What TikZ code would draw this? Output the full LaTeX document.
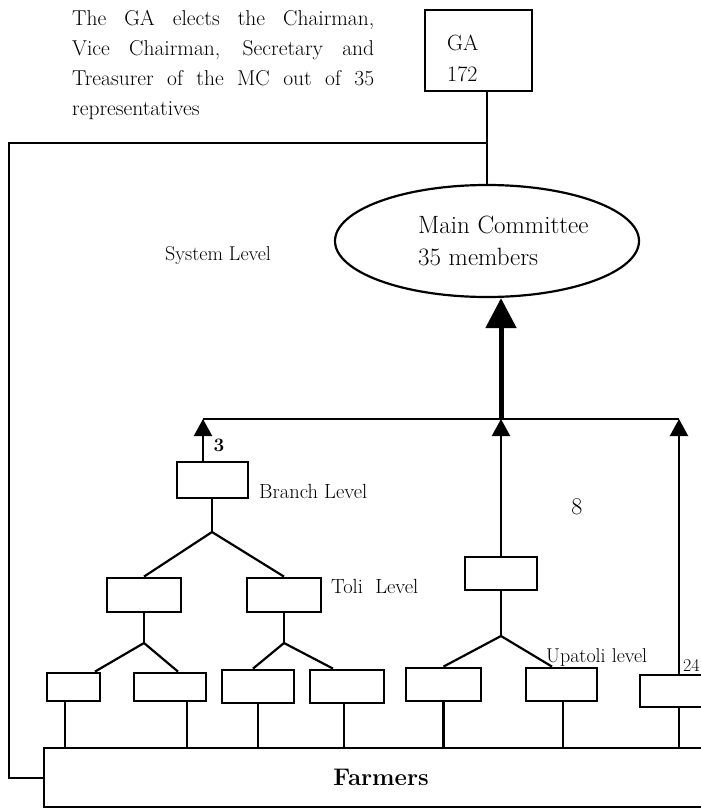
\documentclass[tikz,border=0pt]{standalone}
\usetikzlibrary{arrows.meta,shapes.geometric}
\begin{document}
\begin{tikzpicture}[x=1pt,y=-1pt,
  ln/.style={line width=2.2pt},
  bx/.style={draw,line width=2.8pt,inner sep=0pt,rectangle},
  sarrow/.style={ln,-{Triangle[length=17pt,width=18pt]}},
  barrow/.style={line width=5pt,-{Triangle[length=30pt,width=30pt]}},
  lbl/.style={anchor=base west,inner sep=0pt},
  ftA/.style={font=\fontsize{20}{24}\selectfont},
  ftP/.style={font=\fontsize{21.5}{26}\selectfont},
]
\useasboundingbox (0,0) rectangle (701,809);
\clip (0,0) rectangle (701,809);

% paragraph
\node[lbl,ftP] (p1) at (72,25) {\makebox[302pt][s]{The GA elects the Chairman,}};
\node[lbl,ftP] (p2) at (72,55) {\makebox[302pt][s]{Vice Chairman, Secretary and}};
\node[lbl,ftP] (p3) at (72,85) {\makebox[302pt][s]{Treasurer of the MC out of 35}};
\node[lbl,ftP] (p4) at (72,115) {representatives};

% boxes
\node[bx,minimum width=107pt,minimum height=81pt] (ga) at (478.5,50.5) {};
\node[lbl,font=\fontsize{22}{26}\selectfont] (gat) at (447,50) {GA};
\node[lbl,font=\fontsize{22}{26}\selectfont] (gan) at (447,81) {172};

\node[draw,ellipse,line width=2.2pt,minimum width=304pt,minimum height=112pt,inner sep=0pt] (mc) at (487,241) {};
\node[lbl,font=\fontsize{25}{30}\selectfont] (mct1) at (418,233) {Main Committee};
\node[lbl,font=\fontsize{25}{30}\selectfont] (mct2) at (418,265) {35 members};

\node[lbl,ftA] (sys) at (165,260) {System Level};

\node[bx,minimum width=71pt,minimum height=36pt] (br) at (212.5,480) {};
\node[bx,minimum width=74pt,minimum height=34pt] (t1) at (144,595) {};
\node[bx,minimum width=74pt,minimum height=34pt] (t2) at (284,595) {};
\node[bx,minimum width=72pt,minimum height=33pt] (mid) at (501,573.5) {};
\node[bx,minimum width=53pt,minimum height=28pt] (b1) at (73.5,687) {};
\node[bx,minimum width=72pt,minimum height=28pt] (b2) at (170,687) {};
\node[bx,minimum width=72pt,minimum height=33pt] (b3) at (258,686.5) {};
\node[bx,minimum width=74pt,minimum height=33pt] (b4) at (347,686.5) {};
\node[bx,minimum width=75pt,minimum height=33pt] (b5) at (443.5,684.5) {};
\node[bx,minimum width=71pt,minimum height=33pt] (b6) at (561.5,684.5) {};
\node[bx,minimum width=80pt,minimum height=32pt] (b7) at (680,691) {};
\node[bx,minimum width=674pt,minimum height=59pt,font=\fontsize{24}{28}\selectfont\bfseries] (fa) at (381,777.5) {Farmers};

% labels
\node[lbl,font=\fontsize{20.5}{24}\selectfont] (brl) at (259,498) {Branch Level};
\node[lbl,font=\fontsize{20.5}{24}\selectfont] (tol) at (331,593) {Toli\ \ Level};
\node[lbl,ftA] (upl) at (546,662) {Upatoli level};
\node[font=\fontsize{19}{22}\selectfont\bfseries,inner sep=0pt] (n3) at (219,445) {3};
\node[font=\fontsize{24}{28}\selectfont,inner sep=0pt] (n8) at (577,507) {8};
\node[lbl,font=\fontsize{18}{22}\selectfont] (n24) at (683,671) {24};

% top connectors
\draw[ln] (ga.south -| mc.north) -- (mc.north);
\coordinate (lt) at (9,143);
\coordinate (lb) at (9,778);
\draw[ln] (mc.north |- lt) -- (lt) -- (lb) -- (lb -| fa.west);

% collector line and arrows
\coordinate (hL) at (203,419);
\coordinate (hM) at (501,419);
\coordinate (hR) at (679,419);
\draw[ln] (hL) -- (hR);
\draw[barrow] (hM) -- (hM |- mc.south);
\draw[sarrow] (br.north -| hL) -- (hL);
\draw[sarrow] (mid.north) -- (hM);
\draw[sarrow] (b7.north -| hR) -- (hR);
\draw[ln] (b7.south -| hR) -- (fa.north -| hR);

% trees
\coordinate (j1) at (212,532);
\draw[ln] (br.south -| j1) -- (j1);
\draw[ln] (t1.north) -- (j1) -- (t2.north);
\coordinate (j2) at (144,643);
\draw[ln] (t1.south) -- (j2);
\draw[ln] ([xshift=21.5pt]b1.north) -- (j2) -- ([xshift=8pt]b2.north);
\coordinate (j3) at (284,643);
\draw[ln] (t2.south) -- (j3);
\draw[ln] ([xshift=-5pt]b3.north) -- (j3) -- ([xshift=-14pt]b4.north);
\coordinate (j4) at (501,636);
\draw[ln] (mid.south) -- (j4);
\draw[ln] (b5.north) -- (j4) -- ([xshift=-9.5pt]b6.north);

% stems to farmers
\coordinate (s1) at ([xshift=-8.5pt]b1.south);
\coordinate (s2) at ([xshift=17pt]b2.south);
\coordinate (s3) at (b3.south);
\coordinate (s4) at ([xshift=-3pt]b4.south);
\coordinate (s5) at (b5.south);
\coordinate (s6) at ([xshift=1.5pt]b6.south);
\draw[ln] (s1) -- (s1 |- fa.north);
\draw[ln] (s2) -- (s2 |- fa.north);
\draw[ln] (s3) -- (s3 |- fa.north);
\draw[ln] (s4) -- (s4 |- fa.north);
\draw[ln] (s5) -- (s5 |- fa.north);
\draw[ln] (s6) -- (s6 |- fa.north);
\end{tikzpicture}
\end{document}
